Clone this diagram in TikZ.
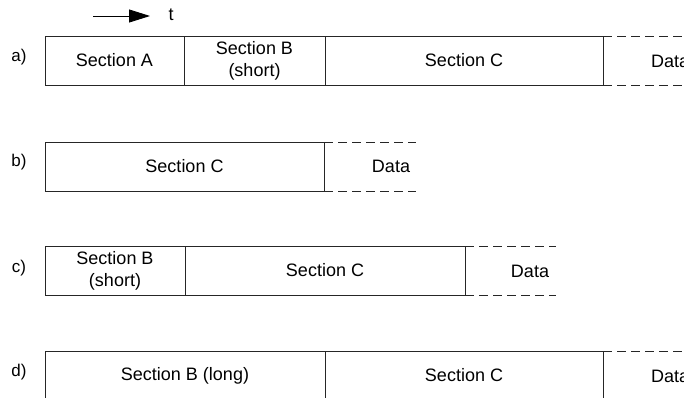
\documentclass[tikz,border=0pt]{standalone}
\usepackage{fontspec}
\setmainfont{Liberation Sans}
\usetikzlibrary{arrows.meta}
\begin{document}
\begin{tikzpicture}[x=1pt,y=-1pt,
  seg/.style={draw=black!85, line width=0.8pt, rectangle, inner sep=0pt, outer sep=0pt,
    minimum height=49pt, anchor=north west, font=\fontsize{18}{22}\selectfont, align=center},
  open/.style={draw=black!85, line width=0.8pt, dash pattern=on 9pt off 5pt},
  lbl/.style={font=\fontsize{17}{20}\selectfont, inner sep=0pt},
  dtxt/.style={font=\fontsize{18}{22}\selectfont, inner sep=0pt}]
\useasboundingbox (0,0) rectangle (684,398);
\clip (0,0) rectangle (684,398);

% time direction
\coordinate (tS) at (93,16);
\coordinate (tE) at (150,16);
\draw[line width=0.9pt, -{Triangle[length=21pt,width=13pt]}] (tS) -- (tE);
\node[dtxt] (t) at (171,15) {t};

% a)
\node[lbl] (la) at (19,57) {a)};
\node[seg, minimum width=139pt] (aA) at (45,36) {Section A};
\node[seg, minimum width=141pt] (aB) at (aA.north east) {Section B\\(short)};
\node[seg, minimum width=278pt] (aC) at (aB.north east) {Section C};
\coordinate (aT) at (700,36);
\coordinate (aU) at (700,85);
\draw[open] (aC.north east) -- (aT);
\draw[open] (aC.south east) -- (aU);
\node[dtxt, anchor=west] (aD) at (651,61) {Data};

% b)
\node[lbl] (lb) at (19,162) {b)};
\node[seg, minimum width=279pt] (bC) at (45,142) {Section C};
\coordinate (bT) at (416,142);
\coordinate (bU) at (416,191);
\draw[open] (bC.north east) -- (bT);
\draw[open] (bC.south east) -- (bU);
\node[dtxt] (bD) at (391,166) {Data};

% c)
\node[lbl] (lc) at (19,268) {c)};
\node[seg, minimum width=140pt] (cB) at (45,246) {Section B\\(short)};
\node[seg, minimum width=280pt] (cC) at (cB.north east) {Section C};
\coordinate (cT) at (556,246);
\coordinate (cU) at (556,295);
\draw[open] (cC.north east) -- (cT);
\draw[open] (cC.south east) -- (cU);
\node[dtxt] (cD) at (530,271) {Data};

% d)
\node[lbl] (ld) at (19,372) {d)};
\node[seg, minimum width=280pt] (dB) at (45,351) {Section B (long)};
\node[seg, minimum width=278pt] (dC) at (dB.north east) {Section C};
\coordinate (dT) at (700,351);
\draw[open] (dC.north east) -- (dT);
\node[dtxt, anchor=west] (dD) at (651,376) {Data};
\end{tikzpicture}
\end{document}
